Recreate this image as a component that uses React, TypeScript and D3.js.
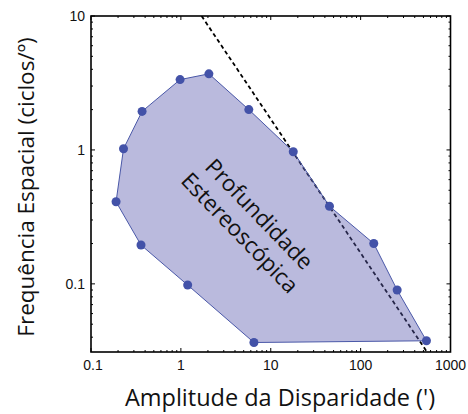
import React from "react";
import * as d3 from "d3";

const regionX = [0.19, 0.23, 0.37, 0.98, 2.05, 5.7, 17.8, 45, 140, 255, 540, 6.5, 1.19, 0.36];
const regionY = [0.41, 1.02, 1.94, 3.35, 3.7, 2.0, 0.97, 0.38, 0.2, 0.09, 0.0376, 0.0365, 0.098, 0.195];
const limitX = [1.7, 548];
const limitY = [10, 0.031];
const xTickLabels = ["0.1", "1", "10", "100", "1000"];
const yTickLabels = ["0.1", "1", "10"];

const W = 468, H = 414;
const L = 91, R = 450.5, T = 16, B = 352;

export default function App() {
  const x = d3.scaleLog().domain([0.1, 1000]).range([L, R]);
  const y = d3.scaleLog().domain([0.031, 10]).range([B, T]);
  const pts: [number, number][] = regionX.map((v, i) => [x(v), y(regionY[i])]);
  const poly = d3.line()(pts.concat([pts[0]])) || "";
  const limit = d3.line()(limitX.map((v, i) => [x(v), y(limitY[i])] as [number, number])) || "";
  const xt = x.ticks();
  const yt = y.ticks();
  const isMajor = (v: number) => Math.abs(Math.log10(v) - Math.round(Math.log10(v))) < 1e-6;
  const tickFont = "'Liberation Sans', Arial, sans-serif";
  const labFont = "'Open Sans', sans-serif";
  return (
    <svg width={W} height={H} style={{ position: "absolute", left: 0, top: 0 }}>
      <rect width={W} height={H} fill="#fff" />
      <defs>
        <clipPath id="pc"><rect x={L} y={T} width={R - L} height={B - T} /></clipPath>
      </defs>
      <g clipPath="url(#pc)">
        <path d={limit} stroke="#000" strokeWidth={1.8} strokeDasharray="4,3" fill="none" />
        <path d={poly} fill="rgb(90,90,175)" fillOpacity={0.42} stroke="#4a58a8" strokeWidth={1} />
      </g>
      {pts.map((p, i) => (
        <circle key={i} cx={p[0]} cy={p[1]} r={4.5} fill="#4352a8" />
      ))}
      <text transform="translate(250,223) rotate(46)" fontFamily={labFont} fontSize={22.5} fill="#111" textAnchor="middle">
        <tspan x={0} dy={-5}>Profundidade</tspan>
        <tspan x={0} dy={27}>Estereoscópica</tspan>
      </text>
      {xt.map((v, i) => {
        const len = isMajor(v) ? 4 : 2;
        return (
          <g key={"x" + i}>
            <line x1={x(v)} x2={x(v)} y1={B} y2={B - len} stroke="#000" strokeWidth={1} />
            <line x1={x(v)} x2={x(v)} y1={T} y2={T + len} stroke="#000" strokeWidth={1} />
          </g>
        );
      })}
      {yt.map((v, i) => {
        const len = isMajor(v) ? 4 : 2;
        return (
          <g key={"y" + i}>
            <line x1={L} x2={L + len} y1={y(v)} y2={y(v)} stroke="#000" strokeWidth={1} />
            <line x1={R} x2={R - len} y1={y(v)} y2={y(v)} stroke="#000" strokeWidth={1} />
          </g>
        );
      })}
      <rect x={L} y={T} width={R - L} height={B - T} fill="none" stroke="#000" strokeWidth={1.6} />
      {xTickLabels.map((s) => (
        <text key={s} x={x(+s) + (s === "0.1" ? 2 : 0)} y={370} fontFamily={tickFont} fontSize={14} textAnchor="middle" fill="#111">{s}</text>
      ))}
      {yTickLabels.map((s) => (
        <text key={s} x={85} y={y(+s) + 5} fontFamily={tickFont} fontSize={14} textAnchor="end" fill="#111">{s}</text>
      ))}
      <text x={280} y={406} fontFamily={labFont} fontSize={23.5} textAnchor="middle" fill="#111">Amplitude da Disparidade (')</text>
      <text transform="translate(34,187) rotate(-90)" fontFamily={labFont} fontSize={22.5} textAnchor="middle" fill="#111">Frequência Espacial (ciclos/º)</text>
    </svg>
  );
}
